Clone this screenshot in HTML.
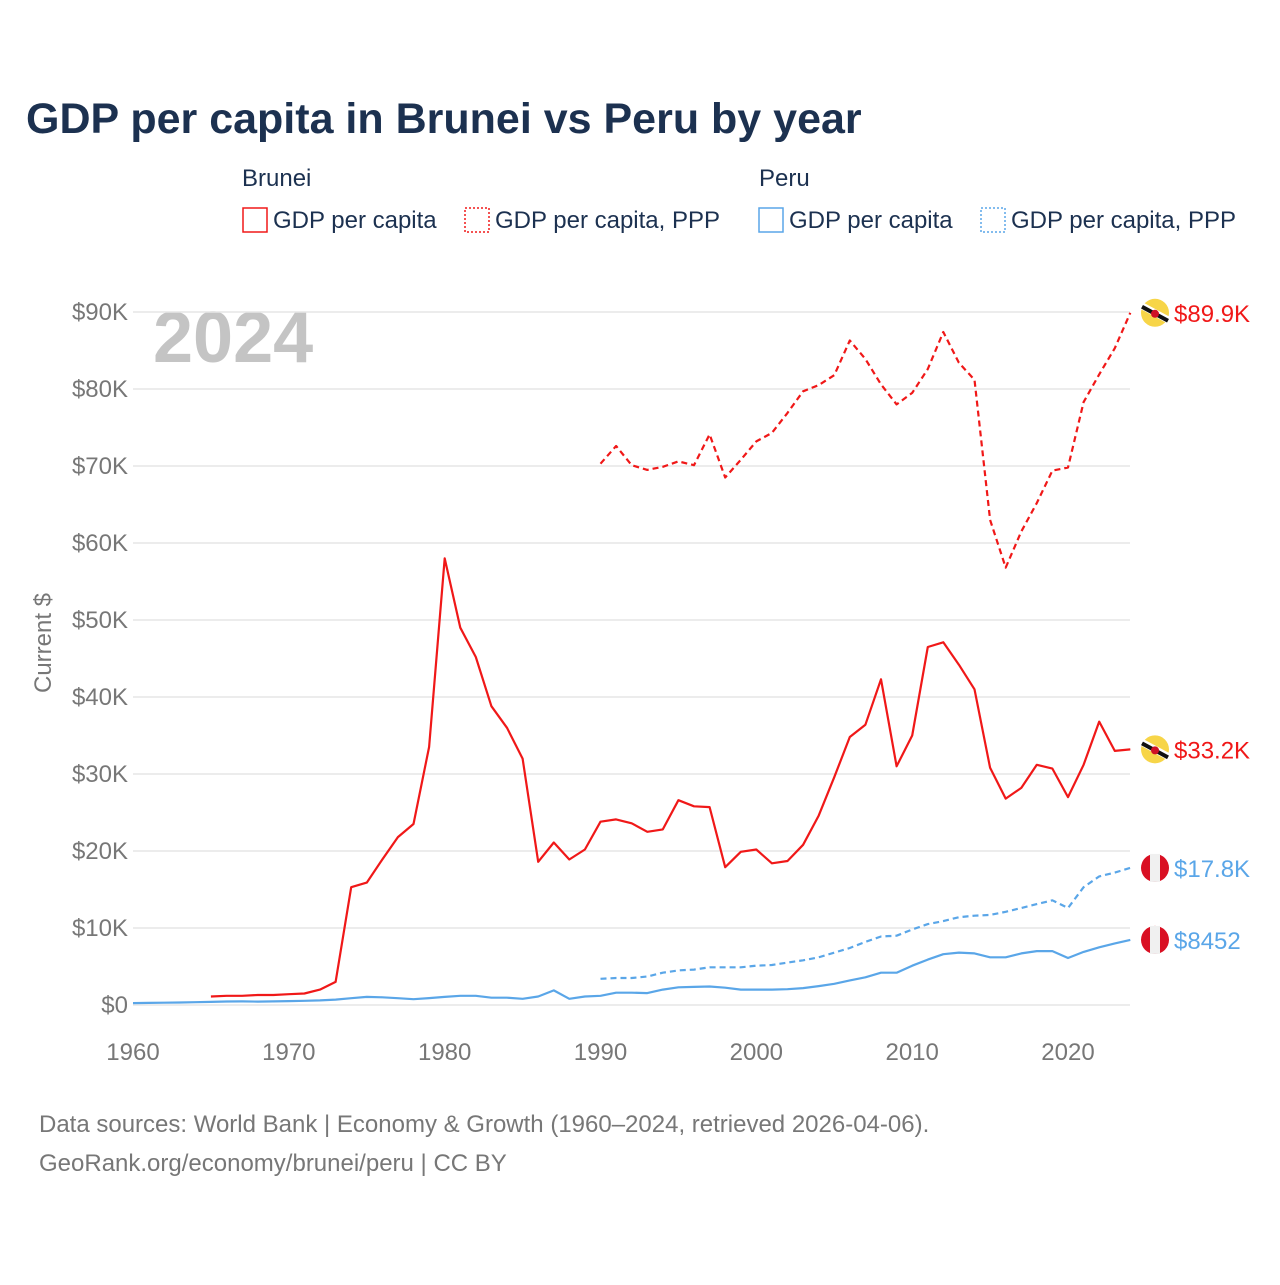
<!DOCTYPE html>
<html><head><meta charset="utf-8"><style>
body{margin:0;background:#fff;font-family:"Liberation Sans",sans-serif}
</style></head><body>
<svg width="1280" height="1280" xmlns="http://www.w3.org/2000/svg" id="chart" font-family="Liberation Sans, sans-serif">
<text x="26" y="133" font-size="43" font-weight="bold" fill="#1c3150">GDP per capita in Brunei vs Peru by year</text>
<g font-size="24" fill="#1c3150">
<text x="242" y="186">Brunei</text>
<text x="759" y="186">Peru</text>
<g><rect x="243" y="208" width="24" height="24" fill="none" stroke="#f01818" stroke-width="1.5"/><text x="273" y="228">GDP per capita</text></g>
<g><rect x="465" y="208" width="24" height="24" fill="none" stroke="#f01818" stroke-width="1.5" stroke-dasharray="2,2"/><text x="495" y="228">GDP per capita, PPP</text></g>
<g><rect x="759" y="208" width="24" height="24" fill="none" stroke="#5aa6e8" stroke-width="1.5"/><text x="789" y="228">GDP per capita</text></g>
<g><rect x="981" y="208" width="24" height="24" fill="none" stroke="#5aa6e8" stroke-width="1.5" stroke-dasharray="2,2"/><text x="1011" y="228">GDP per capita, PPP</text></g>
</g>
<text x="153" y="362" font-size="72" font-weight="bold" fill="#c4c4c4">2024</text>
<text transform="translate(51,643) rotate(-90)" text-anchor="middle" font-size="24" fill="#777">Current $</text>
<g id="grid"></g><g id="yticks"></g><g id="xticks"></g><g id="series"></g><g id="ends"></g>
<text x="39" y="1132" font-size="24" fill="#777">Data sources: World Bank | Economy &amp; Growth (1960–2024, retrieved 2026-04-06).</text>
<text x="39" y="1171" font-size="24" fill="#777">GeoRank.org/economy/brunei/peru | CC BY</text>
</svg>
<script>
const yTicks=[0,10,20,30,40,50,60,70,80,90];
const yTickLabels=["$0","$10K","$20K","$30K","$40K","$50K","$60K","$70K","$80K","$90K"];
const xTicks=[1960,1970,1980,1990,2000,2010,2020];
const bruneiGdpStart=1965;
const bruneiGdp=[1.1,1.2,1.2,1.3,1.3,1.4,1.5,2.0,3.0,15.3,15.9,18.9,21.8,23.5,33.5,58.0,49.0,45.2,38.8,36.0,32.0,18.6,21.1,18.9,20.2,23.8,24.1,23.6,22.5,22.8,26.6,25.8,25.7,17.9,19.9,20.2,18.4,18.7,20.8,24.6,29.6,34.8,36.4,42.3,31.0,35.0,46.5,47.1,44.2,41.0,30.8,26.8,28.2,31.2,30.7,27.0,31.2,36.8,33.0,33.2];
const bruneiPppStart=1990;
const bruneiPpp=[70.3,72.6,70.1,69.5,69.9,70.6,70.1,74.1,68.5,70.8,73.2,74.3,76.9,79.7,80.5,81.8,86.3,83.9,80.6,78.0,79.5,82.6,87.4,83.4,81.2,63.0,56.8,61.5,65.2,69.4,69.8,78.3,81.9,85.3,89.9];
const peruGdpStart=1960;
const peruGdp=[0.25,0.27,0.3,0.32,0.36,0.4,0.45,0.47,0.44,0.47,0.5,0.55,0.6,0.7,0.88,1.05,1.0,0.88,0.75,0.9,1.05,1.2,1.2,0.95,0.95,0.8,1.1,1.9,0.8,1.1,1.2,1.6,1.6,1.55,2.0,2.3,2.35,2.4,2.25,2.0,2.0,2.0,2.05,2.2,2.45,2.75,3.2,3.6,4.2,4.2,5.1,5.9,6.6,6.8,6.7,6.2,6.2,6.7,7.0,7.0,6.1,6.9,7.5,8.0,8.452];
const peruPppStart=1990;
const peruPpp=[3.4,3.5,3.5,3.7,4.2,4.5,4.6,4.9,4.9,4.9,5.1,5.2,5.5,5.8,6.2,6.8,7.4,8.2,8.9,9.0,9.8,10.5,10.9,11.4,11.6,11.7,12.1,12.6,13.1,13.6,12.6,15.3,16.7,17.2,17.8];
const endLabels=["$89.9K","$33.2K","$17.8K","$8452"];

const NS="http://www.w3.org/2000/svg";
const X=y=>133+(y-1960)*(935/60);
const Y=v=>1005-v*7.7;
function mk(tag,attrs,parent){const e=document.createElementNS(NS,tag);for(const k in attrs)e.setAttribute(k,attrs[k]);parent.appendChild(e);return e;}
const grid=document.getElementById('grid'),yt=document.getElementById('yticks'),xt=document.getElementById('xticks'),ser=document.getElementById('series'),ends=document.getElementById('ends');
yTicks.forEach((v,i)=>{
  const l=mk('line',{x1:133,x2:1130,y1:Y(v),y2:Y(v),stroke:'#e6e6e6','stroke-width':1.5},grid);
  
  
  const t=mk('text',{x:128,y:Y(v)+8,'text-anchor':'end','font-size':24,fill:'#777'},yt);
  t.textContent=yTickLabels[i];
  
  
});
xTicks.forEach(v=>{
  const t=mk('text',{x:X(v),y:1060,'text-anchor':'middle','font-size':24,fill:'#777'},xt);
  t.textContent=v;
  
  
});
function line(arr,start,color,dash,name){
  const d=arr.map((v,i)=>(i?'L':'M')+X(start+i).toFixed(1)+','+Y(v).toFixed(1)).join('');
  const p=mk('path',{d:d,fill:'none',stroke:color,'stroke-width':2.2,'stroke-linejoin':'round'},ser);
  if(dash)p.setAttribute('stroke-dasharray','6,4');
  
  
}
line(bruneiPpp,bruneiPppStart,'#f01818',true,'brunei-ppp-line');
line(bruneiGdp,bruneiGdpStart,'#f01818',false,'brunei-gdp-line');
line(peruPpp,peruPppStart,'#5aa6e8',true,'peru-ppp-line');
line(peruGdp,peruGdpStart,'#5aa6e8',false,'peru-gdp-line');
const lasts=[[bruneiPpp,'#f01818','brunei'],[bruneiGdp,'#f01818','brunei'],[peruPpp,'#5aa6e8','peru'],[peruGdp,'#5aa6e8','peru']];
lasts.forEach((s,i)=>{
  const v=s[0][s[0].length-1],cy=Y(v),cx=1155;
  const g=mk('g',{},ends);
  
  
  if(s[2]==='brunei'){
    mk('circle',{cx:cx,cy:cy,r:14,fill:'#f7d548'},g);
    mk('line',{x1:cx-13,y1:cy-7,x2:cx+13,y2:cy+7,stroke:'#fff','stroke-width':7},g);
    mk('line',{x1:cx-13,y1:cy-6,x2:cx+13,y2:cy+8,stroke:'#111','stroke-width':4},g);
    mk('circle',{cx:cx,cy:cy+1,r:4,fill:'#cf1126'},g);
  }else{
    mk('circle',{cx:cx,cy:cy,r:14,fill:'#d91023'},g);
    mk('rect',{x:cx-5,y:cy-14,width:10,height:28,fill:'#f0f0f0'},g);
  }
  const t=mk('text',{x:1174,y:cy+9,'font-size':24,fill:s[1]},ends);
  t.textContent=endLabels[i];
  
  
});
</script>
</body></html>
